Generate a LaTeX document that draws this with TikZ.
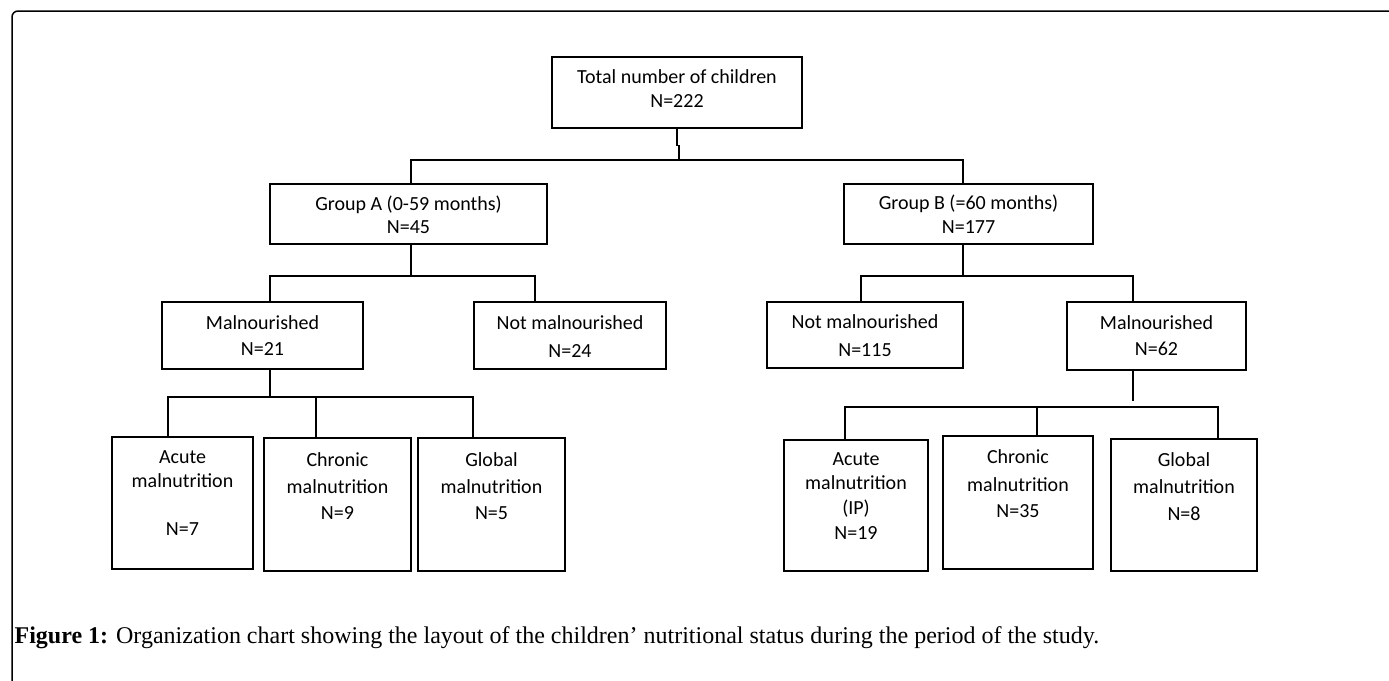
\documentclass[tikz,border=0pt]{standalone}
\usepackage{fontspec}
\usepackage{tikz}
\newfontfamily\chartfont{Carlito}
\newfontfamily\captionfont{Liberation Serif}
\newcommand{\toppad}{\rule{0pt}{16pt}}
\newcommand{\botpad}[1]{\rule[-#1pt]{0pt}{#1pt}}

\begin{document}
\begin{tikzpicture}[x=1pt, y=-1pt, line width=1.2pt,
  box/.style={draw, rectangle, inner sep=0pt, align=center, font=\chartfont\fontsize{20}{24}\selectfont}]

\useasboundingbox (0,0) rectangle (1389,680);

% Frame
\draw[line width=1.5pt, rounded corners=6pt] (12,683) |- (1392,11);

% Main node
\node[box, minimum width=250pt, minimum height=71pt] (total) at (677,92.5) {\toppad Total number of children\\N=222\botpad{11}};

% Age groups
\node[box, minimum width=277pt, minimum height=60pt] (grpA) at (408.5,214) {\toppad Group A (0-59 months)\\[-1pt]N=45\botpad{1}};
\node[box, minimum width=249pt, minimum height=60pt] (grpB) at (968.5,214) {\toppad Group B (=60 months)\\N=177\botpad{2}};

% Nutritional status
\node[box, minimum width=201pt, minimum height=67pt] (malL) at (262.5,335.5) {\toppad Malnourished\\[2pt]N=21\botpad{3}};
\node[box, minimum width=192pt, minimum height=67pt] (notL) at (570,335.5) {\toppad Not malnourished\\[4pt]N=24\botpad{1}};
\node[box, minimum width=196pt, minimum height=66pt] (notR) at (865,335) {\toppad Not malnourished\\[4pt]N=115};
\node[box, minimum width=179pt, minimum height=68pt] (malR) at (1156.5,336) {\toppad Malnourished\\[2pt]N=62\botpad{4}};

% Types of malnutrition, group A
\node[box, minimum width=141pt, minimum height=132pt] (acuteL) at (182.5,503) {\toppad Acute\\malnutrition\\[24pt]N=7\botpad{24}};
\node[box, minimum width=147pt, minimum height=133pt] (chronL) at (337.5,504.5) {\toppad Chronic\\[3pt]malnutrition\\[2pt]N=9\botpad{40}};
\node[box, minimum width=147pt, minimum height=133pt] (globL) at (491.5,504.5) {\toppad Global\\[3pt]malnutrition\\[2pt]N=5\botpad{40}};

% Types of malnutrition, group B
\node[box, minimum width=144pt, minimum height=131pt] (acuteR) at (856,505.5) {\toppad Acute\\malnutrition\\[1pt](IP)\\[1pt]N=19\botpad{23}};
\node[box, minimum width=150pt, minimum height=133pt] (chronR) at (1018,502.5) {\toppad Chronic\\[4pt]malnutrition\\[2pt]N=35\botpad{41}};
\node[box, minimum width=146pt, minimum height=132pt] (globR) at (1184,505) {\toppad Global\\[3pt]malnutrition\\[3pt]N=8\botpad{40}};

% Caption
\node[anchor=base west, inner sep=0pt, font=\captionfont\fontsize{24}{28}\selectfont] (caption) at (14,643) {\textbf{Figure 1:} Organization chart showing the layout of the children’ nutritional status during the period of the study.};

% Connecting lines
\coordinate (bus0) at (679,160);
\coordinate (busA) at (411,276);
\coordinate (busB) at (963,276);
\coordinate (busC) at (270,397);
\coordinate (busD) at (1133,407);

\draw (total.south) -- ++(0,17) -- ++(2,0) -- (bus0);
\draw ([xshift=2.5pt]grpA.north) |- (bus0) -| ([xshift=-5.5pt]grpB.north);

\draw ([xshift=2.5pt]grpA.south) -- (busA);
\draw ([xshift=7.5pt]malL.north) |- (busA) -| ([xshift=-35pt]notL.north);
\draw ([xshift=-5.5pt]grpB.south) -- (busB);
\draw ([xshift=-4pt]notR.north) |- (busB) -| ([xshift=-23.5pt]malR.north);

\draw ([xshift=7.5pt]malL.south) -- (busC);
\draw ([xshift=-14.5pt]acuteL.north) |- (busC) -| ([xshift=-18.5pt]globL.north);
\draw ([xshift=-21.5pt]chronL.north) -- +(0,-41);

\draw ([xshift=-23.5pt]malR.south) -- ([yshift=6pt]busD);
\draw ([xshift=-11pt]acuteR.north) |- (busD) -| ([xshift=34pt]globR.north);
\draw ([xshift=19pt]chronR.north) -- +(0,-29);

\end{tikzpicture}
\end{document}
